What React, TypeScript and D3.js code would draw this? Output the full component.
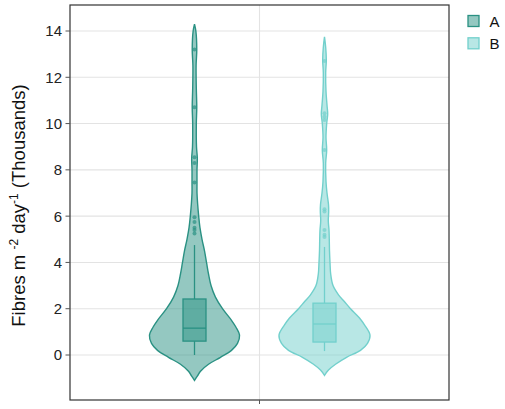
import * as d3 from 'd3';

// groups and colours
const groups = ['A', 'B'];
const colors: Record<string, string> = { A: '#2a9183', B: '#72d0cc' };

// y ticks (thousands)
const yTicks = [0, 2, 4, 6, 8, 10, 12, 14];

// violin outlines: [value, relative density]
const violinA: [number, number][] = [
    [14.3, 0], [14.0, 0.03], [13.2, 0.05], [12.5, 0.035], [11.5, 0.04], [10.7, 0.05],
    [10.0, 0.04], [9.0, 0.044], [8.5, 0.062], [8.0, 0.055], [7.45, 0.055], [7.0, 0.055],
    [6.5, 0.07], [6.0, 0.092], [5.5, 0.12], [5.0, 0.165], [4.5, 0.22], [4.0, 0.264],
    [3.5, 0.308], [3.0, 0.363], [2.5, 0.46], [2.0, 0.615], [1.5, 0.813], [1.2, 0.912],
    [0.86, 0.99], [0.5, 0.945], [0.2, 0.813], [-0.1, 0.571], [-0.4, 0.308], [-0.7, 0.132],
    [-0.9, 0.066], [-1.1, 0],
];
const violinB: [number, number][] = [
    [13.75, 0], [13.3, 0.026], [12.75, 0.04], [12.2, 0.026], [11.4, 0.033], [10.8, 0.055],
    [10.4, 0.07], [10.0, 0.048], [9.4, 0.033], [8.85, 0.048], [8.3, 0.026], [7.5, 0.033],
    [7.0, 0.055], [6.5, 0.088], [6.2, 0.092], [5.8, 0.083], [5.4, 0.099], [5.0, 0.105],
    [4.5, 0.11], [4.0, 0.121], [3.5, 0.136], [3.0, 0.187], [2.6, 0.308], [2.3, 0.44],
    [2.0, 0.571], [1.6, 0.769], [1.3, 0.879], [0.86, 1.0], [0.5, 0.945], [0.2, 0.791],
    [-0.1, 0.484], [-0.4, 0.242], [-0.65, 0.088], [-0.88, 0],
];

// box stats: lower whisker, q1, median, q3, upper whisker
const boxA = [0, 0.6, 1.16, 2.42, 4.75];
const boxB = [0.17, 0.56, 1.34, 2.24, 4.67];

const outliersA = [13.2, 10.7, 8.55, 8.3, 7.45, 5.95, 5.75, 5.5, 5.4, 5.25];
const outliersB = [12.7, 10.45, 10.3, 10.15, 8.86, 6.3, 6.2, 5.4, 5.2, 5.1];

const violins: Record<string, [number, number][]> = { A: violinA, B: violinB };
const boxes: Record<string, number[]> = { A: boxA, B: boxB };
const outliers: Record<string, number[]> = { A: outliersA, B: outliersB };

const W = 505;
const H = 409;
const panel = { left: 70, right: 449, top: 5, bottom: 400 };

export default function App() {
    const y = d3.scaleLinear().domain([0, 14]).range([355, 31]);
    const x = d3.scaleBand().domain(['']).range([panel.left, panel.right]);
    const xc = (x('') as number) + x.bandwidth() / 2;
    const dodge = d3.scaleBand().domain(groups).range([xc - 130, xc + 130]);
    const gx = (g: string) => (dodge(g) as number) + dodge.bandwidth() / 2;
    const wScale = d3.scaleLinear().domain([0, 1]).range([0, 45.5]);
    const boxHalf = 11.5;

    const font = 'Liberation Sans, Arial, sans-serif';

    return (
        <svg width={W} height={H} style={{ position: 'absolute', left: 0, top: 0 }} fontFamily={font}>
            <rect x={0} y={0} width={W} height={H} fill="#fff" />
            {/* grid */}
            {yTicks.map((t) => (
                <line key={t} x1={panel.left} x2={panel.right} y1={y(t)} y2={y(t)} stroke="#e3e3e3" strokeWidth={1.1} />
            ))}
            <line x1={xc} x2={xc} y1={panel.top} y2={panel.bottom} stroke="#e3e3e3" strokeWidth={1.1} />

            {groups.map((g) => {
                const cx = gx(g);
                const col = colors[g];
                const area = d3
                    .area<[number, number]>()
                    .y((d) => y(d[0]))
                    .x0((d) => cx - wScale(d[1]))
                    .x1((d) => cx + wScale(d[1]))
                    .curve(d3.curveCatmullRom);
                const b = boxes[g];
                return (
                    <g key={g}>
                        <path d={area(violins[g]) as string} fill={col} fillOpacity={0.5} stroke={col} strokeWidth={1.4} />
                        <line x1={cx} x2={cx} y1={y(b[0])} y2={y(b[1])} stroke={col} strokeWidth={1.3} />
                        <line x1={cx} x2={cx} y1={y(b[3])} y2={y(b[4])} stroke={col} strokeWidth={1.3} />
                        <rect
                            x={cx - boxHalf}
                            width={boxHalf * 2}
                            y={y(b[3])}
                            height={y(b[1]) - y(b[3])}
                            fill={col}
                            fillOpacity={0.5}
                            stroke={col}
                            strokeWidth={1.3}
                        />
                        <line x1={cx - boxHalf} x2={cx + boxHalf} y1={y(b[2])} y2={y(b[2])} stroke={col} strokeWidth={1.3} />
                        {outliers[g].map((o, i) => (
                            <circle key={i} cx={cx} cy={y(o)} r={2} fill={col} fillOpacity={0.7} />
                        ))}
                    </g>
                );
            })}

            {/* panel border */}
            <rect
                x={panel.left}
                y={panel.top}
                width={panel.right - panel.left}
                height={panel.bottom - panel.top}
                fill="none"
                stroke="#333"
                strokeWidth={1.2}
            />

            {/* y axis */}
            {yTicks.map((t) => (
                <g key={t}>
                    <line x1={65.5} x2={panel.left} y1={y(t)} y2={y(t)} stroke="#555" strokeWidth={1} />
                    <text x={62} y={y(t)} dy="0.36em" textAnchor="end" fontSize={15} fill="#222">
                        {t}
                    </text>
                </g>
            ))}
            {/* x tick */}
            <line x1={xc} x2={xc} y1={panel.bottom} y2={panel.bottom + 4} stroke="#555" strokeWidth={1} />

            {/* y title */}
            <text transform={`translate(25, ${(panel.top + panel.bottom) / 2 + 3}) rotate(-90)`} textAnchor="middle" fontSize={18.5} fill="#111">
                Fibres m <tspan fontSize={12} dy={-7.5}>-2</tspan>
                <tspan dy={7.5}> day</tspan>
                <tspan fontSize={12} dy={-7.5}>-1</tspan>
                <tspan dy={7.5}> (Thousands)</tspan>
            </text>

            {/* legend */}
            {groups.map((g, i) => (
                <g key={g} transform={`translate(468, ${15.5 + i * 22.3})`}>
                    <rect x={0} y={0} width={11} height={11} fill={colors[g]} fillOpacity={0.5} stroke={colors[g]} strokeWidth={1.3} />
                    <text x={21.5} y={11} fontSize={15} fill="#111">
                        {g}
                    </text>
                </g>
            ))}
        </svg>
    );
}
